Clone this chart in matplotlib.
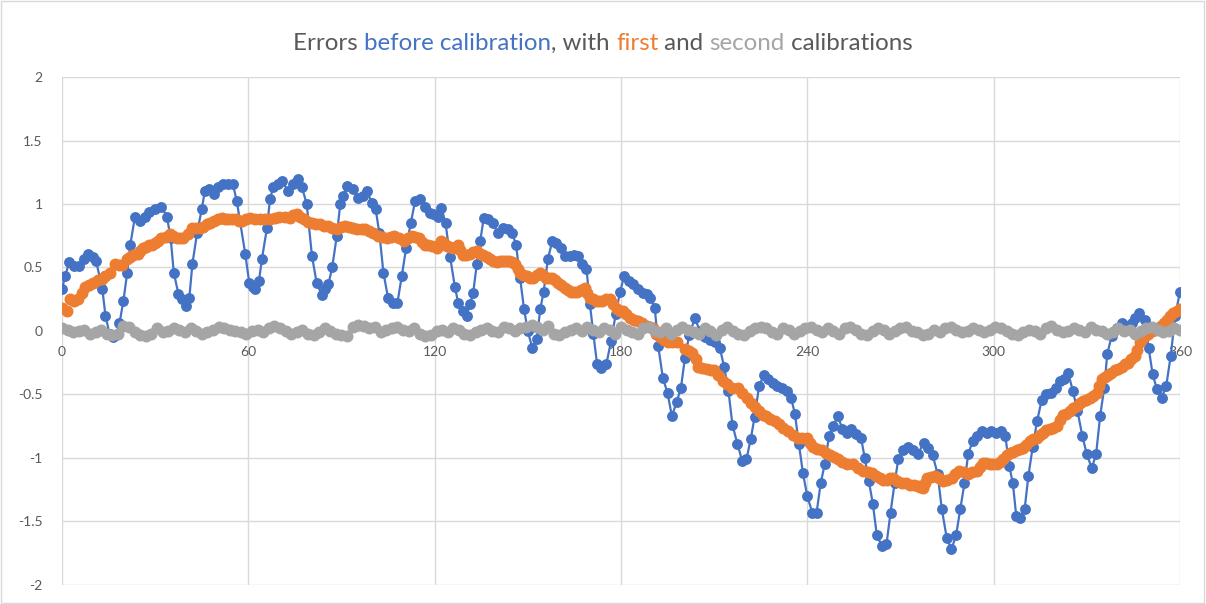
import matplotlib
matplotlib.use("Agg")
import matplotlib.pyplot as plt
import numpy as np
from matplotlib.patches import Rectangle

plt.rcParams['font.family'] = ['Lato', 'DejaVu Sans']
plt.rcParams['axes.unicode_minus'] = False

# error before calibration (angle in degrees, error)
blue_deg = [0, 1, 2.3, 4, 5.5, 7, 8.4, 10, 11, 13, 14, 15.3, 16.5, 17.5, 18.5, 19.8, 21, 22,
            23.5, 25, 26.7, 28, 30, 32, 33.8, 35, 36, 37.5, 38.8, 40, 41, 42, 43.5,
            45, 46, 47.5, 49, 50.3, 52, 53.5, 55, 56.3, 59, 60.3, 61.5, 62.3, 63.4, 64.4, 66,
            67, 68, 69.5, 71, 72.8, 74.5, 76, 77.3, 78.8, 80.5, 82, 83.7, 84.7, 85.8, 87, 88.5,
            89.6, 90.6, 91.8, 93.7, 95.3, 97, 98.2, 99.8, 101, 102.2, 103.5, 105, 106.6, 108,
            109.4, 110.8, 112.3, 113.7, 115.2, 116.8, 118.4, 119.6, 121, 122.2, 123.5, 125,
            126.5, 127.6, 129, 130.3, 131.4, 132.4, 133.6, 134.7, 135.8, 137.2, 138.8, 140.3,
            141.9, 143.5, 145, 146.2, 147.5, 148.8, 150, 151.4, 152.9, 154, 155.1, 156.5,
            157.9, 159.2, 160.6, 162.1, 163.6, 165, 166.2, 167.6, 168.9, 170, 171.1, 172.3,
            173.7, 175.3, 176.8, 178.3, 179.7, 181, 182.6, 184, 185.5, 187, 188.4, 189.5,
            190.9, 192, 193.5, 195, 196.4, 197.9, 199.3, 200.6, 202, 203.8, 205.4, 207.2,
            208.8, 210.3, 211.8, 213.2, 214.6, 215.9, 217.5, 219, 220.4, 221.8, 223, 224.5,
            226, 227.3, 228.8, 230.3, 231.9, 233.5, 234.8, 236, 237.3, 238.6, 240, 241.6,
            243, 244.3, 245.6, 247, 248.3, 249.8, 251.3, 252.7, 254.2, 255.8, 257.3, 258.5,
            259.8, 261.1, 262.4, 264, 265.5, 266.8, 268.1, 269.3, 270.8, 272.3, 273.9, 275.5,
            277.6, 278.9, 280.4, 282, 283.3, 284.9, 286.4, 287.9, 289.3, 290.6, 291.8, 293.2,
            294.8, 296.2, 297.8, 299.3, 300.9, 302.5, 303.8, 305, 306.2, 307.3, 308.6, 310,
            311.2, 312.6, 314, 315.5, 317, 318.6, 320.2, 321.4, 322.7, 324, 325.5, 327, 328.6,
            330, 331.6, 333, 334.3, 335.6, 336.6, 338, 339.6, 341.2, 342.8, 344.4, 345.6,
            346.9, 348.6, 349.9, 351.2, 352.6, 354.1, 355.6, 357, 358.5, 360]
blue_err = [0.33, 0.43, 0.54, 0.51, 0.51, 0.57, 0.61, 0.58, 0.55, 0.33, 0.12, -0.02, -0.05, -0.03, 0.06, 0.24, 0.46, 0.68,
            0.9, 0.87, 0.9, 0.94, 0.96, 0.98, 0.9, 0.73, 0.46, 0.29, 0.25, 0.2, 0.26, 0.53, 0.77,
            0.96, 1.1, 1.12, 1.08, 1.13, 1.16, 1.16, 1.16, 1.02, 0.61, 0.38, 0.35, 0.33, 0.39, 0.57, 0.81,
            1.04, 1.13, 1.16, 1.18, 1.1, 1.16, 1.2, 1.13, 1.0, 0.59, 0.38, 0.28, 0.33, 0.37, 0.5, 0.75,
            1.0, 1.06, 1.14, 1.12, 1.05, 1.06, 1.1, 1.01, 0.96, 0.77, 0.46, 0.26, 0.22, 0.22,
            0.43, 0.65, 0.85, 1.02, 1.04, 0.98, 0.93, 0.92, 0.9, 0.97, 0.85, 0.58,
            0.35, 0.22, 0.16, 0.12, 0.21, 0.3, 0.53, 0.71, 0.89, 0.88, 0.85, 0.77,
            0.81, 0.8, 0.77, 0.68, 0.42, 0.17, 0.0, -0.13, -0.06, 0.17, 0.31, 0.57,
            0.71, 0.69, 0.65, 0.59, 0.59, 0.6, 0.59, 0.53, 0.49, 0.21, -0.02, -0.26,
            -0.29, -0.26, -0.08, 0.13, 0.31, 0.43, 0.39, 0.37, 0.33, 0.3, 0.29, 0.26,
            0.18, -0.12, -0.37, -0.49, -0.67, -0.56, -0.45, -0.21, -0.03, 0.1, 0.0, -0.05,
            -0.07, -0.09, -0.13, -0.28, -0.47, -0.74, -0.89, -1.02, -1.01, -0.85, -0.68, -0.43,
            -0.35, -0.38, -0.41, -0.43, -0.45, -0.47, -0.53, -0.65, -0.89, -1.12, -1.3, -1.43,
            -1.43, -1.2, -1.05, -0.83, -0.75, -0.67, -0.77, -0.8, -0.77, -0.81, -0.84, -1.0,
            -1.18, -1.36, -1.61, -1.69, -1.68, -1.43, -1.2, -1.01, -0.94, -0.91, -0.94, -0.97,
            -0.88, -0.92, -0.98, -1.13, -1.4, -1.63, -1.72, -1.61, -1.4, -1.2, -0.97, -0.87,
            -0.83, -0.79, -0.8, -0.79, -0.8, -0.79, -0.83, -1.06, -1.2, -1.46, -1.47, -1.4,
            -1.14, -0.91, -0.71, -0.54, -0.5, -0.49, -0.45, -0.39, -0.38, -0.33, -0.47, -0.63, -0.83,
            -0.97, -1.08, -0.97, -0.67, -0.45, -0.18, -0.04, 0.02, 0.06, 0.04, 0.06, 0.1,
            0.14, 0.09, -0.13, -0.34, -0.46, -0.53, -0.43, -0.2, 0.12, 0.31]

# error after first calibration (markers only, so order does not matter)
orange_deg = [0, 1.6, 2.6, 5.2, 7.4, 10, 11.6, 14, 15.5, 17, 19.3, 21, 23, 24.5, 26, 28, 30,
              32, 34.8, 37, 39, 40.6, 42, 44.4, 46.7, 49, 51.5, 53.5, 56, 58, 60.5, 63.7,
              67, 70, 73.4, 75.6, 78, 80.5, 83, 85.6, 88.5, 91, 93.7, 96.5, 99, 101.7, 104.6,
              107, 110, 112.7, 115, 117, 119, 120.7, 122, 124, 126, 127.5, 129, 131.4, 133.6,
              135.6, 137.8, 140, 142, 144, 146, 147.5, 149.7, 151.7, 154, 156, 157.7, 159.7,
              162, 164, 166, 168.4, 170, 172, 174, 176.4, 178.6, 180.6, 182.9, 185.5, 188.3,
              190.3, 192.5, 195, 198, 200.6, 203, 204.8, 207.6, 210, 212.8, 215.6, 217.7,
              220.5, 223, 225.7, 228, 231, 233.7, 237, 239.8, 241.8, 244.7, 247.3, 250,
              252.7, 254.7, 258, 260.8, 263.4, 265.6, 267.6, 270.4, 273, 275.5, 277.3, 278.5,
              281, 283.6, 286.5, 289, 291.6, 294.5, 296.5, 298.8, 301, 303, 305.3, 307.5,
              309.4, 311.7, 314, 316, 318, 320.4, 322.3, 324.6, 326.8, 328.7, 331, 333.2,
              334.8, 336.8, 339, 341.3, 343.2, 345.5, 347, 348.7, 351, 352.9, 355, 356.8,
              359, 360,
              3.9, 6.3, 8.7, 12.8, 18.2, 22, 25.2, 27, 29, 31, 33.4, 35.9, 38, 43.2, 45.5,
              47.8, 50.2, 52.5, 54.7, 57, 59.2, 62, 65.3, 68.5, 71.7, 74.5, 76.8, 79.2, 81.7,
              84.3, 87, 89.7, 92.3, 95, 97.7, 100.3, 103, 105.8, 108.5, 111.3, 113.8, 116,
              118, 121.3, 123, 125, 126.8, 128.2, 130.2, 132.5, 134.6, 136.7, 138.9, 141, 143,
              145, 146.8, 148.6, 150.7, 152.8, 155, 156.8, 158.7, 160.8, 163, 165, 167.2,
              169.2, 171, 173, 175.2, 177.5, 179.6, 181.7, 184.2, 186.9, 189.3, 191.4, 193.7,
              196.5, 202, 204, 206, 209, 211.4, 214, 219, 221.8, 224.3, 226.8, 229.5, 232.3, 235.3,
              238.4, 240.8, 243.2, 246, 248.6, 251.3, 256.3, 259.4, 262, 264.5, 266.6, 269,
              271.7, 274.3, 276.4, 277.9, 279.7, 282.3, 285, 287.7, 290.3, 293, 295.5, 297.6,
              299.9, 302, 304.2, 306.4, 308.4, 310.5, 312.8, 315, 317, 319.2, 321.3, 323.4,
              325.7, 327.7, 329.8, 332.1, 334, 335.8, 337.9, 340.1, 342.2, 344.3, 346.2,
              347.8, 349.8, 352, 353.9, 355.9, 357.9]
orange_err = [0.18, 0.16, 0.25, 0.25, 0.35, 0.38, 0.4, 0.43, 0.46, 0.53, 0.52, 0.57, 0.6, 0.61, 0.65, 0.68, 0.69,
              0.73, 0.76, 0.73, 0.73, 0.76, 0.81, 0.81, 0.84, 0.87, 0.89, 0.88, 0.88, 0.87, 0.89, 0.88,
              0.88, 0.9, 0.89, 0.92, 0.88, 0.85, 0.84, 0.83, 0.8, 0.83, 0.81, 0.8, 0.79, 0.75, 0.73,
              0.75, 0.71, 0.75, 0.73, 0.68, 0.67, 0.65, 0.71, 0.67, 0.65, 0.68, 0.6, 0.61, 0.63,
              0.6, 0.57, 0.54, 0.55, 0.55, 0.53, 0.46, 0.43, 0.42, 0.46, 0.42, 0.42, 0.38,
              0.34, 0.31, 0.31, 0.34, 0.26, 0.24, 0.24, 0.25, 0.17, 0.16, 0.1, 0.08, 0.04,
              0.02, -0.05, -0.09, -0.09, -0.14, -0.17, -0.28, -0.3, -0.31, -0.39, -0.45, -0.45,
              -0.53, -0.6, -0.66, -0.69, -0.73, -0.79, -0.84, -0.84, -0.91, -0.94, -0.98, -1.01,
              -1.05, -1.05, -1.1, -1.12, -1.16, -1.17, -1.16, -1.2, -1.21, -1.22, -1.24, -1.16,
              -1.14, -1.18, -1.16, -1.1, -1.13, -1.1, -1.04, -1.05, -1.05, -1.01, -0.96, -0.94,
              -0.92, -0.87, -0.84, -0.8, -0.77, -0.75, -0.66, -0.63, -0.59, -0.55, -0.53, -0.49,
              -0.38, -0.35, -0.31, -0.28, -0.25, -0.2, -0.09, -0.04, 0.0, 0.02, 0.06, 0.12,
              0.16, 0.17,
              0.24, 0.3, 0.36, 0.41, 0.52, 0.58, 0.63, 0.66, 0.68, 0.71, 0.74, 0.75, 0.73, 0.81, 0.82,
              0.85, 0.88, 0.88, 0.88, 0.87, 0.88, 0.88, 0.88, 0.89, 0.9, 0.91, 0.9, 0.86, 0.84,
              0.83, 0.81, 0.82, 0.82, 0.8, 0.8, 0.77, 0.74, 0.74, 0.73, 0.73, 0.74, 0.7,
              0.68, 0.68, 0.69, 0.66, 0.66, 0.64, 0.6, 0.62, 0.61, 0.58, 0.55, 0.55, 0.55,
              0.54, 0.49, 0.44, 0.42, 0.44, 0.44, 0.42, 0.4, 0.36, 0.32, 0.31, 0.32,
              0.3, 0.25, 0.24, 0.25, 0.21, 0.16, 0.13, 0.09, 0.06, 0.03, -0.02, -0.07,
              -0.09, -0.16, -0.22, -0.29, -0.31, -0.35, -0.42, -0.49, -0.57, -0.63, -0.67, -0.71, -0.76, -0.82,
              -0.84, -0.88, -0.93, -0.96, -0.99, -1.03, -1.08, -1.11, -1.14, -1.17, -1.16, -1.18,
              -1.2, -1.21, -1.23, -1.2, -1.15, -1.16, -1.17, -1.13, -1.11, -1.11, -1.07, -1.04,
              -1.05, -1.03, -0.98, -0.95, -0.93, -0.9, -0.85, -0.82, -0.78, -0.76, -0.7, -0.65,
              -0.61, -0.57, -0.54, -0.51, -0.43, -0.36, -0.33, -0.3, -0.26, -0.22, -0.15,
              -0.06, -0.02, 0.01, 0.04, 0.09, 0.14]

# error after second calibration (evenly sampled over 0..360)
gray_err = [0.02, 0.01, -0.01, 0.00, 0.01, -0.02, -0.01, 0.01, -0.02, -0.03,
            -0.02, 0.04, 0.03, -0.01, -0.03, -0.04, -0.02, 0.02, -0.01, 0.00,
            0.02, 0.01, -0.01, 0.02, 0.00, -0.02, -0.01, 0.01, 0.03, 0.02,
            0.01, 0.00, -0.01, -0.02, 0.00, 0.01, -0.01, 0.02, 0.04, 0.02,
            0.00, -0.02, -0.01, 0.01, -0.02, -0.03, -0.01, 0.02, 0.00, -0.02,
            -0.03, -0.04, 0.03, 0.05, 0.04, 0.02, 0.03, -0.01, 0.01, 0.02,
            0.03, 0.01, 0.00, 0.02, -0.02, -0.04, -0.03, 0.00, 0.01, -0.01,
            0.02, 0.01, -0.02, -0.03, -0.01, 0.01, 0.02, 0.00, -0.01, 0.03,
            0.02, 0.00, 0.02, 0.03, 0.05, 0.03, 0.01, 0.04, -0.02, -0.03,
            -0.01, 0.01, 0.02, 0.00, 0.03, 0.01, -0.01, 0.02, 0.01, -0.02,
            0.03, 0.01, -0.01, -0.02, 0.02, 0.03, 0.00, -0.01, 0.02, -0.02,
            0.01, 0.03, 0.01, -0.01, -0.02, 0.02, 0.00, -0.03, 0.01, 0.03,
            0.00, -0.02, -0.03, 0.00, 0.02, 0.03, 0.02, -0.01, -0.02, 0.02,
            0.01, -0.02, 0.00, 0.02, 0.03, 0.01, -0.01, 0.02, 0.00, -0.02,
            0.02, 0.03, 0.01, -0.02, -0.03, 0.00, 0.02, 0.01, -0.02, 0.00,
            0.02, 0.03, 0.00, -0.01, -0.03, -0.02, 0.01, -0.01, 0.02, 0.03,
            0.01, -0.01, 0.00, 0.02, 0.01, -0.01, 0.01, 0.03, 0.02, 0.00,
            -0.02, -0.03, -0.01, 0.01, 0.00, -0.02, 0.02, 0.04, 0.01, -0.01,
            0.00, 0.02, 0.01, -0.01, 0.03, 0.01, 0.00, -0.02, -0.01, 0.02,
            0.00, 0.01, -0.02, 0.00, 0.02, 0.03, 0.01, -0.01, 0.00, 0.02,
            0.01]
gray_deg = np.linspace(0, 360, len(gray_err))

x_ticks = [0, 60, 120, 180, 240, 300, 360]
y_ticks = [-2, -1.5, -1, -0.5, 0, 0.5, 1, 1.5, 2]
y_labels = ['-2', '-1.5', '-1', '-0.5', '0', '0.5', '1', '1.5', '2']

BLUE = '#4472C4'
ORANGE = '#ED7D31'
GRAY = '#A5A5A5'
TXT = '#595959'
GRID = '#D9D9D9'

fig = plt.figure(figsize=(12.06, 6.04), dpi=100)
ax = fig.add_axes([0.0514, 0.0315, 0.927, 0.841])

ax.plot(blue_deg, blue_err, color=BLUE, lw=1.6, marker='o', ms=6.8, zorder=3)
ax.plot(orange_deg, orange_err, color=ORANGE, lw=0, marker='o', ms=7.6, zorder=4)
ax.plot(gray_deg, gray_err, color=GRAY, lw=0, marker='o', ms=7.6, zorder=5)

ax.set_xlim(0, 360)
ax.set_ylim(-2, 2)
ax.set_xticks(x_ticks)
ax.set_yticks(y_ticks)
ax.set_yticklabels(y_labels)
ax.set_axisbelow(True)
ax.grid(True, color=GRID, lw=1)
for s in ['top', 'right', 'left']:
    ax.spines[s].set_visible(False)
ax.spines['bottom'].set_position(('data', 0))
ax.spines['bottom'].set_color(GRID)
ax.tick_params(length=0, colors=TXT, labelsize=10)
ax.tick_params(axis='x', pad=11)
ax.tick_params(axis='y', pad=14)

# title made of coloured pieces
pieces = [("Errors ", TXT), ("before calibration", BLUE), (", with ", TXT), ("first", ORANGE),
          (" and ", TXT), ("second", GRAY), (" calibrations", TXT)]
fig.canvas.draw()
r = fig.canvas.get_renderer()
texts = []
for s, c in pieces:
    t = fig.text(0, 0.928, s, color=c, fontsize=17.4, va='center', ha='left')
    texts.append(t)
widths = [t.get_window_extent(r).width for t in texts]
W = fig.get_figwidth() * fig.dpi
x0 = (W - sum(widths)) / 2
for t, w in zip(texts, widths):
    t.set_x(x0 / W)
    x0 += w

fig.add_artist(Rectangle((0.0005, 0.001), 0.998, 0.997, transform=fig.transFigure,
                         fill=False, edgecolor=GRID, lw=1))

fig.savefig('out.png', dpi=100)
